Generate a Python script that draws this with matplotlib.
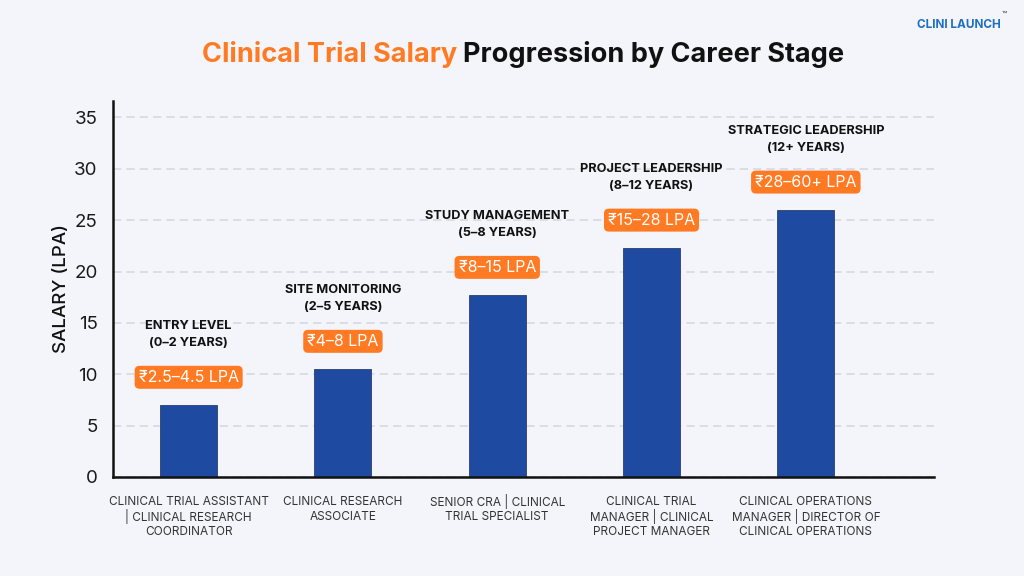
import matplotlib
matplotlib.use("Agg")
import matplotlib.pyplot as plt

plt.rcParams['font.family'] = ['Inter', 'DejaVu Sans']

# ── data ──────────────────────────────────────────────────────────────
roles = [
    "CLINICAL TRIAL ASSISTANT\n| CLINICAL RESEARCH\nCOORDINATOR",
    "CLINICAL RESEARCH\nASSOCIATE",
    "SENIOR CRA | CLINICAL\nTRIAL SPECIALIST",
    "CLINICAL TRIAL\nMANAGER | CLINICAL\nPROJECT MANAGER",
    "CLINICAL OPERATIONS\nMANAGER | DIRECTOR OF\nCLINICAL OPERATIONS",
]
stages = [
    "ENTRY LEVEL\n(0–2 YEARS)",
    "SITE MONITORING\n(2–5 YEARS)",
    "STUDY MANAGEMENT\n(5–8 YEARS)",
    "PROJECT LEADERSHIP\n(8–12 YEARS)",
    "STRATEGIC LEADERSHIP\n(12+ YEARS)",
]
ranges = ["₹2.5–4.5 LPA", "₹4–8 LPA", "₹8–15 LPA", "₹15–28 LPA", "₹28–60+ LPA"]
salary = [7.0, 10.5, 17.7, 22.3, 26.0]
yticks = [0, 5, 10, 15, 20, 25, 30, 35]

BG     = "#F4F5FA"
BAR    = "#1E4AA2"
ORANGE = "#FF7A22"
GRID   = "#D8D9DE"
DARK   = "#111111"

fig = plt.figure(figsize=(10.24, 5.76), dpi=100)
fig.patch.set_facecolor(BG)
ax = fig.add_axes([0.1104, 0.1719, 0.8016, 0.6528])
ax.set_facecolor(BG)

x = list(range(len(salary)))
ax.bar(x, salary, width=0.37, color=BAR, edgecolor="#2A3F70", linewidth=0.6, zorder=3)

ax.set_xlim(-0.49, 4.83)
ax.set_ylim(0, 36.6)
ax.set_yticks(yticks)
ax.set_yticklabels([str(v) for v in yticks], fontsize=13.5, color="#1A1A1A")
ax.set_xticks(x)
ax.set_xticklabels([])
ax.tick_params(axis="both", length=0)
ax.tick_params(axis="y", pad=11)

# role labels: one text per line so every line sits on the same grid
for xi, role in zip(x, roles):
    for k, line in enumerate(role.split("\n")):
        ax.annotate(line, (xi, 0), xycoords=("data", "axes fraction"),
                    xytext=(0, -18 - 10.8 * k), textcoords="offset points",
                    ha="center", va="center", fontsize=8.5, color="#333333")

ax.yaxis.grid(True, linestyle=(0, (5, 3)), color=GRID, linewidth=1.2, zorder=0)
for s in ["top", "right"]:
    ax.spines[s].set_visible(False)
for s in ["left", "bottom"]:
    ax.spines[s].set_linewidth(1.8)
    ax.spines[s].set_color(DARK)
    ax.spines[s].set_zorder(4)

ax.set_ylabel("SALARY (LPA)", fontsize=13.5, fontweight="medium", color=DARK,
              labelpad=3)

for xi, v, rng, stg in zip(x, salary, ranges, stages):
    ax.annotate(rng, (xi, v), xytext=(0, 20), textcoords="offset points",
                ha="center", va="center", fontsize=11.5, color="white",
                bbox=dict(boxstyle="round,pad=0.25,rounding_size=0.3",
                          fc=ORANGE, ec="none"), zorder=5)
    ax.annotate(stg, (xi, v), xytext=(0, 51), textcoords="offset points",
                ha="center", va="center", fontsize=9.2, fontweight="bold",
                color=DARK, linespacing=1.55, zorder=5)

# title: orange part + black part
t1 = fig.text(0.5, 0.905, "Clinical Trial Salary ", fontsize=19.5, fontweight="bold",
              color=ORANGE, ha="left", va="center")
t2 = fig.text(0.5, 0.905, "Progression by Career Stage", fontsize=19.5, fontweight="bold",
              color=DARK, ha="left", va="center")
fig.canvas.draw()
r = fig.canvas.get_renderer()
w1 = t1.get_window_extent(r).width / fig.bbox.width
w2 = t2.get_window_extent(r).width / fig.bbox.width
left = 0.511 - (w1 + w2) / 2
t1.set_x(left)
t2.set_x(left + w1)

# logo
fig.text(0.977, 0.957, "CLINI LAUNCH", fontsize=8.5, fontweight="bold",
         color="#1F6FC0", ha="right", va="center")
fig.text(0.978, 0.975, "™", fontsize=6, color="#333333", ha="left", va="center")

fig.savefig("out.png", dpi=100, facecolor=BG)
